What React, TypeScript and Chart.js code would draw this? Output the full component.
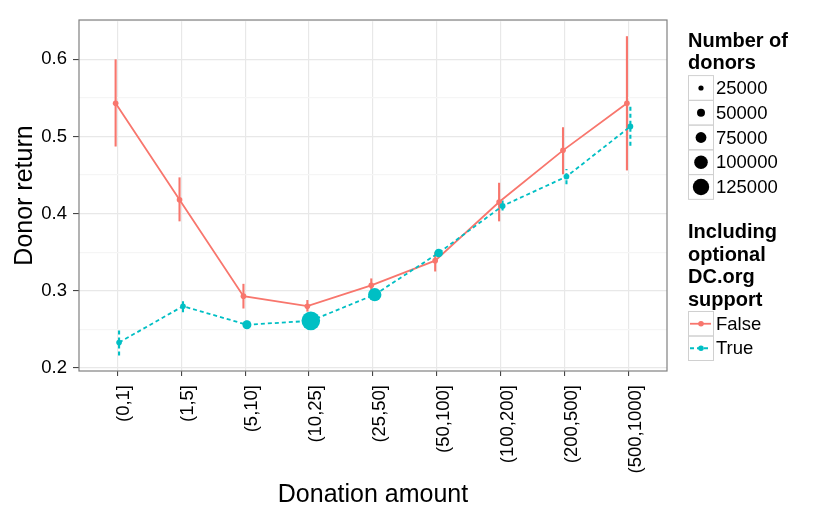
import { useEffect, useRef } from "react";
import { Chart, registerables } from "chart.js";

Chart.register(...registerables);

const categories = [
  "(0,1]",
  "(1,5]",
  "(5,10]",
  "(10,25]",
  "(25,50]",
  "(50,100]",
  "(100,200]",
  "(200,500]",
  "(500,1000]",
];

// "False" = without optional DC.org support
const falseMean = [0.543, 0.418, 0.293, 0.28, 0.307, 0.339, 0.415, 0.482, 0.543];
const falseLow = [0.487, 0.39, 0.277, 0.273, 0.299, 0.325, 0.39, 0.451, 0.456];
const falseHigh = [0.6, 0.447, 0.309, 0.288, 0.316, 0.35, 0.44, 0.512, 0.63];
const falseDonors = [29000, 29000, 29000, 29000, 29000, 29000, 29000, 29000, 29000];

// "True" = including optional DC.org support
const trueMean = [0.233, 0.28, 0.256, 0.261, 0.295, 0.349, 0.41, 0.448, 0.513];
const trueLow = [0.216, 0.272, 0.251, 0.258, 0.291, 0.345, 0.404, 0.438, 0.488];
const trueHigh = [0.249, 0.288, 0.261, 0.265, 0.299, 0.353, 0.417, 0.458, 0.54];
const trueDonors = [29000, 29000, 59000, 145000, 98000, 55000, 32000, 30000, 30000];

const sizeBreaks = [25000, 50000, 75000, 100000, 125000];
const yMajorTicks = [0.2, 0.3, 0.4, 0.5, 0.6];
const yMinorTicks = [0.25, 0.35, 0.45, 0.55, 0.65];

const sizeTitle = ["Number of", "donors"];
const groupTitle = ["Including", "optional", "DC.org", "support"];

const RED = "#F8766D";
const TEAL = "#00BFC4";
const FONT = "'Liberation Sans', Arial, Helvetica, sans-serif";
const DODGE = 0.027;

const radiusFor = (n: number) => 1.2 + n * 5.6e-5;

const series = [
  { name: "False", color: RED, dash: [] as number[], mean: falseMean, low: falseLow, high: falseHigh, donors: falseDonors, shift: -DODGE, order: 2 },
  { name: "True", color: TEAL, dash: [4, 3], mean: trueMean, low: trueLow, high: trueHigh, donors: trueDonors, shift: DODGE, order: 1 },
];

const errorBars = {
  id: "errorBars",
  beforeDatasetsDraw(chart: any) {
    const { ctx } = chart;
    const y = chart.scales.y;
    chart.data.datasets.forEach((ds: any, i: number) => {
      const meta = chart.getDatasetMeta(i);
      ctx.save();
      ctx.strokeStyle = ds.borderColor;
      ctx.lineWidth = 2.1;
      ctx.setLineDash(ds.borderDash || []);
      meta.data.forEach((pt: any, j: number) => {
        ctx.beginPath();
        ctx.moveTo(pt.x, y.getPixelForValue(ds.low[j]));
        ctx.lineTo(pt.x, y.getPixelForValue(ds.high[j]));
        ctx.stroke();
      });
      ctx.restore();
    });
  },
};

const panelBorder = {
  id: "panelBorder",
  afterDraw(chart: any) {
    const { ctx, chartArea: a } = chart;
    ctx.save();
    ctx.strokeStyle = "#808080";
    ctx.lineWidth = 1.2;
    ctx.strokeRect(a.left, a.top, a.right - a.left, a.bottom - a.top);
    ctx.restore();
  },
};

const sideLegend = {
  id: "sideLegend",
  afterDraw(chart: any) {
    const { ctx } = chart;
    const x0 = chart.chartArea.right + 21;
    const keyW = 25;
    ctx.save();
    ctx.fillStyle = "#000";
    ctx.textBaseline = "alphabetic";
    ctx.font = `bold 20px ${FONT}`;
    sizeTitle.forEach((line, i) => ctx.fillText(line, x0, 46.7 + i * 22.5));

    const rowH1 = 24.75;
    const top1 = 75.6;
    sizeBreaks.forEach((b, i) => {
      const ty = top1 + i * rowH1;
      ctx.strokeStyle = "#d0d0d0";
      ctx.lineWidth = 1;
      ctx.strokeRect(x0 + 0.5, ty, keyW, rowH1);
      ctx.fillStyle = "#000";
      ctx.beginPath();
      ctx.arc(x0 + 0.5 + keyW / 2, ty + rowH1 / 2, radiusFor(b), 0, Math.PI * 2);
      ctx.fill();
      ctx.font = `18.5px ${FONT}`;
      ctx.textBaseline = "middle";
      ctx.fillText(String(b), x0 + 28, ty + rowH1 / 2 + 1);
    });

    ctx.font = `bold 20px ${FONT}`;
    ctx.textBaseline = "alphabetic";
    groupTitle.forEach((line, i) => ctx.fillText(line, x0, 238 + i * 22.5));

    const rowH2 = 24.5;
    const top2 = 311.5;
    series.forEach((s, i) => {
      const ty = top2 + i * rowH2;
      const cy = ty + rowH2 / 2;
      ctx.strokeStyle = "#d0d0d0";
      ctx.lineWidth = 1;
      ctx.setLineDash([]);
      ctx.strokeRect(x0 + 0.5, ty, keyW, rowH2);
      ctx.strokeStyle = s.color;
      ctx.lineWidth = 1.8;
      ctx.setLineDash(s.dash);
      ctx.beginPath();
      ctx.moveTo(x0 + 2, cy);
      ctx.lineTo(x0 + 23, cy);
      ctx.stroke();
      ctx.setLineDash([]);
      ctx.fillStyle = s.color;
      ctx.beginPath();
      ctx.arc(x0 + 0.5 + keyW / 2, cy, 2.8, 0, Math.PI * 2);
      ctx.fill();
      ctx.fillStyle = "#000";
      ctx.font = `18.5px ${FONT}`;
      ctx.textBaseline = "middle";
      ctx.fillText(s.name, x0 + 28, cy + 1);
    });
    ctx.restore();
  },
};

export default function App() {
  const canvasRef = useRef<HTMLCanvasElement>(null);
  const chartRef = useRef<Chart | null>(null);

  useEffect(() => {
    if (!canvasRef.current) return;
    if (chartRef.current) chartRef.current.destroy();

    const datasets = series.map((s) => ({
      label: s.name,
      data: s.mean.map((v, i) => ({ x: i + s.shift, y: v })),
      low: s.low,
      high: s.high,
      borderColor: s.color,
      backgroundColor: s.color,
      borderWidth: 1.8,
      borderDash: s.dash,
      pointBackgroundColor: s.color,
      pointBorderWidth: 0,
      pointRadius: s.donors.map(radiusFor),
      pointHoverRadius: s.donors.map(radiusFor),
      tension: 0,
      order: s.order,
    }));

    chartRef.current = new Chart(canvasRef.current, {
      type: "line",
      data: { datasets } as any,
      options: {
        responsive: false,
        animation: false,
        layout: { padding: { top: 20, right: 163, left: 0, bottom: 0 } },
        plugins: {
          legend: { display: false },
          tooltip: { enabled: false },
        },
        scales: {
          x: {
            type: "linear",
            min: -0.6,
            max: categories.length - 1 + 0.6,
            afterBuildTicks: (s: any) => {
              s.ticks = categories.map((_, i) => ({ value: i }));
            },
            afterFit: (s: any) => {
              s.height = 148;
            },
            ticks: {
              autoSkip: false,
              minRotation: 90,
              maxRotation: 90,
              padding: 9,
              labelOffset: 7,
              color: "#000",
              font: { family: FONT, size: 18.5 },
              callback: (_v: any, i: number) => categories[i],
            },
            grid: { color: "#e8e8e8", lineWidth: 1.2, tickColor: "#333", tickLength: 5, tickWidth: 1 },
            border: { display: false },
            title: {
              display: true,
              text: "Donation amount",
              color: "#000",
              font: { family: FONT, size: 25 },
              padding: { top: 0, bottom: 9 },
            },
          },
          y: {
            type: "linear",
            min: 0.196,
            max: 0.651,
            afterBuildTicks: (s: any) => {
              s.ticks = [
                ...yMajorTicks.map((v) => ({ value: v, major: true })),
                ...yMinorTicks.map((v) => ({ value: v, major: false })),
              ].sort((a, b) => a.value - b.value);
            },
            afterFit: (s: any) => {
              s.width = 79;
            },
            ticks: {
              autoSkip: false,
              padding: 6,
              color: "#000",
              font: { family: FONT, size: 18.5 },
              callback: (_v: any, i: number, ticks: any[]) =>
                ticks[i].major ? ticks[i].value.toFixed(1) : "",
            },
            grid: {
              color: (c: any) => (c.tick && c.tick.major ? "#e8e8e8" : "#f5f5f5"),
              lineWidth: 1.2,
              tickColor: (c: any) => (c.tick && c.tick.major ? "#333" : "rgba(0,0,0,0)"),
              tickLength: 6,
              tickWidth: 1,
            },
            border: { display: false },
            title: {
              display: true,
              text: "Donor return",
              color: "#000",
              font: { family: FONT, size: 25 },
              padding: { top: 10, bottom: 0 },
            },
          },
        },
      },
      plugins: [errorBars, panelBorder, sideLegend],
    } as any);

    return () => {
      chartRef.current?.destroy();
      chartRef.current = null;
    };
  }, []);

  return (
    <div style={{ position: "absolute", left: 0, top: 0, width: 830, height: 519, background: "#fff" }}>
      <canvas ref={canvasRef} width={830} height={519} style={{ display: "block" }} />
    </div>
  );
}
